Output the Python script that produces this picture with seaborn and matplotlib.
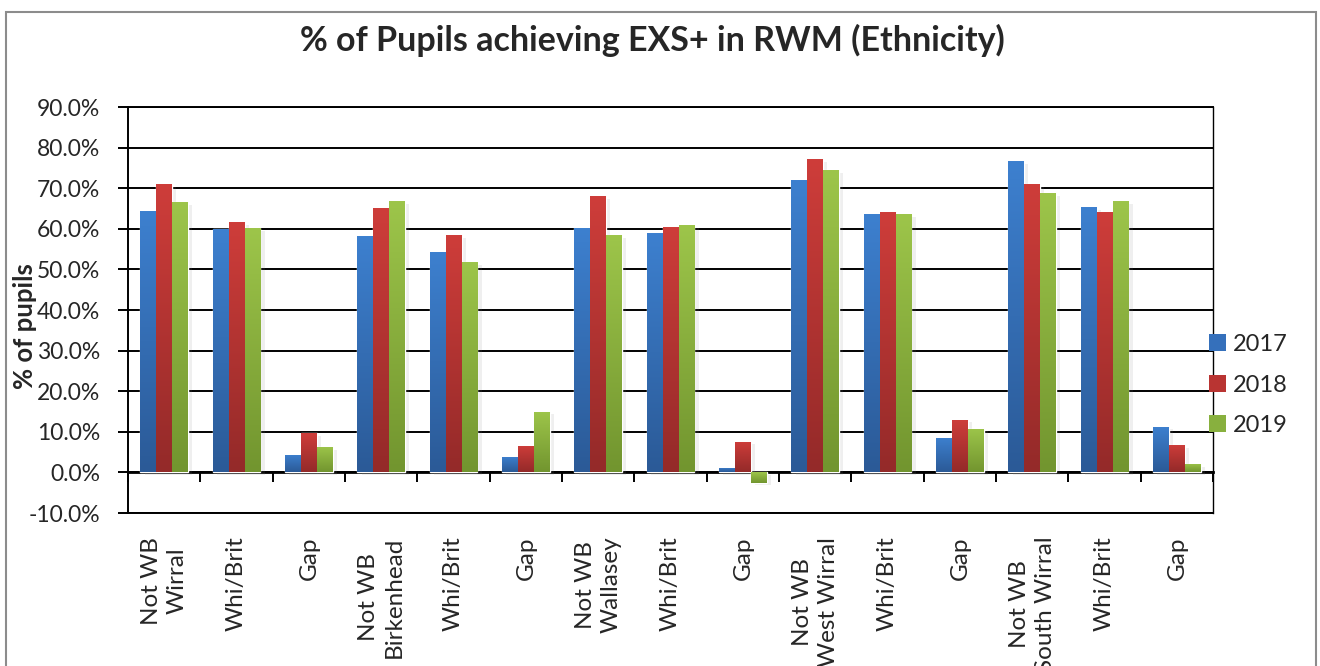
import numpy as np
import pandas as pd
import matplotlib
matplotlib.use("Agg")
import matplotlib.pyplot as plt
import matplotlib.patheffects as pe
from matplotlib.colors import to_rgb
from matplotlib.patches import Rectangle, Patch
from matplotlib.ticker import FuncFormatter
import seaborn as sns

# %% Data
labels = ["Not WB\nWirral", "Whi/Brit", "Gap",
          "Not WB\nBirkenhead", "Whi/Brit", "Gap",
          "Not WB\nWallasey", "Whi/Brit", "Gap",
          "Not WB\nWest Wirral", "Whi/Brit", "Gap",
          "Not WB\nSouth Wirral", "Whi/Brit", "Gap"]
years = ["2017", "2018", "2019"]
y2017 = [64.4, 59.9, 4.4, 58.2, 54.3, 3.9, 60.2, 58.9, 1.2, 72.0, 63.6, 8.6, 76.7, 65.4, 11.3]
y2018 = [71.0, 61.6, 9.6, 65.1, 58.5, 6.6, 68.1, 60.4, 7.6, 77.2, 64.1, 13.0, 71.0, 64.1, 6.8]
y2019 = [66.6, 60.2, 6.3, 66.8, 51.8, 15.0, 58.5, 60.9, -2.5, 74.5, 63.6, 10.8, 68.8, 66.8, 2.1]

# gradient colours per series (top, bottom) and a mid colour for the legend
grad_top = ["#3d80cf", "#ce3d3a", "#9dc54a"]
grad_bot = ["#2b5a97", "#942a29", "#72952f"]
mid_cols = ["#3570bb", "#b93432", "#88b03e"]

n = len(labels)
df = pd.DataFrame({
    "pos": list(range(n)) * 3,
    "value": y2017 + y2018 + y2019,
    "year": [y for y in years for _ in range(n)],
})

# %% Plot
sns.set_style("white")
plt.rcParams["font.family"] = ["Lato", "DejaVu Sans"]

fig, ax = plt.subplots(figsize=(13.2, 6.66), dpi=100)
fig.subplots_adjust(left=0.097, right=0.919, top=0.8393, bottom=0.2297)

sns.barplot(data=df, x="pos", y="value", hue="year", palette=mid_cols,
            width=0.66, saturation=1, errorbar=None, legend=False, ax=ax)

# vertical gradient on each bar, plus a soft shadow
for k, container in enumerate(ax.containers):
    top = np.array(to_rgb(grad_top[k]))
    bot = np.array(to_rgb(grad_bot[k]))
    grad = np.linspace(top, bot, 64).reshape(64, 1, 3)
    for bar in container:
        x0, w = bar.get_x(), bar.get_width()
        y0, h = bar.get_y(), bar.get_height()
        lo, hi = min(y0, y0 + h), max(y0, y0 + h)
        im = ax.imshow(grad, extent=[x0, x0 + w, lo, hi], origin="upper",
                       aspect="auto", interpolation="bilinear", zorder=2.1)
        im.set_clip_path(bar)
        bar.set_zorder(2)
        bar.set_path_effects([pe.SimplePatchShadow(offset=(3, -2), shadow_rgbFace="gray", alpha=0.12),
                              pe.Normal()])

ax.set_xlim(-0.5, n - 0.5)
ax.set_ylim(-10, 90)

# y axis
ax.set_yticks(np.arange(-10, 91, 10))
ax.yaxis.set_major_formatter(FuncFormatter(lambda v, _: f"{v:.1f}%"))
ax.tick_params(axis="y", direction="out", length=7, width=1.4, color="black",
               labelsize=16.5, pad=13, left=True)
ax.yaxis.grid(True, color="black", linewidth=1.4, zorder=0.5)
ax.set_axisbelow(True)

# x axis labels under the plot area (long ones run off the bottom, as in the original)
ax.set_xticks(range(n))
ax.set_xticklabels(labels, rotation=90, va="top", ha="center",
                   multialignment="center", fontsize=17.5, linespacing=1.3)
ax.tick_params(axis="x", length=0, pad=17)
ax.set_xlabel("")
ax.set_ylabel("")

for side in ["left", "bottom", "top"]:
    ax.spines[side].set_color("black")
    ax.spines[side].set_linewidth(1.4)
ax.spines["right"].set_color("black")
ax.spines["right"].set_linewidth(1.0)

# category axis line at 0% with tick marks between groups
sec = ax.secondary_xaxis(0.1)
sec.set_xticks(np.arange(-0.5, n, 1.0))
sec.tick_params(axis="x", direction="out", length=7, width=1.4, color="black", labelbottom=False, labeltop=False)
sec.spines["bottom"].set_linewidth(2)
sec.spines["bottom"].set_color("black")
sec.spines["top"].set_linewidth(2)
sec.spines["top"].set_color("black")

# titles
fig.text(652 / 1320, 1 - 40 / 666, "% of Pupils achieving EXS+ in RWM (Ethnicity)",
         ha="center", va="center", fontsize=24.5, fontweight="bold")
fig.text(25 / 1320, 1 - 326 / 666, "% of pupils", rotation=90, ha="center", va="center",
         fontsize=18.5, fontweight="bold")

# legend
handles = [Patch(facecolor=c, edgecolor="none", label=y) for c, y in zip(mid_cols, years)]
fig.legend(handles=handles, loc="center left", bbox_to_anchor=(1209 / 1320, 1 - 385 / 666),
           frameon=False, fontsize=17, handlelength=0.72, handleheight=0.72,
           handletextpad=0.3, labelspacing=0.83, borderpad=0, borderaxespad=0)

# outer chart border
fig.patches.append(Rectangle((6 / 1320, -0.05), 1310 / 1320, 1 - 12 / 666 + 0.05,
                             transform=fig.transFigure, fill=False,
                             edgecolor="#8c8c8c", linewidth=1.5))

fig.savefig("out.png", dpi=100)
